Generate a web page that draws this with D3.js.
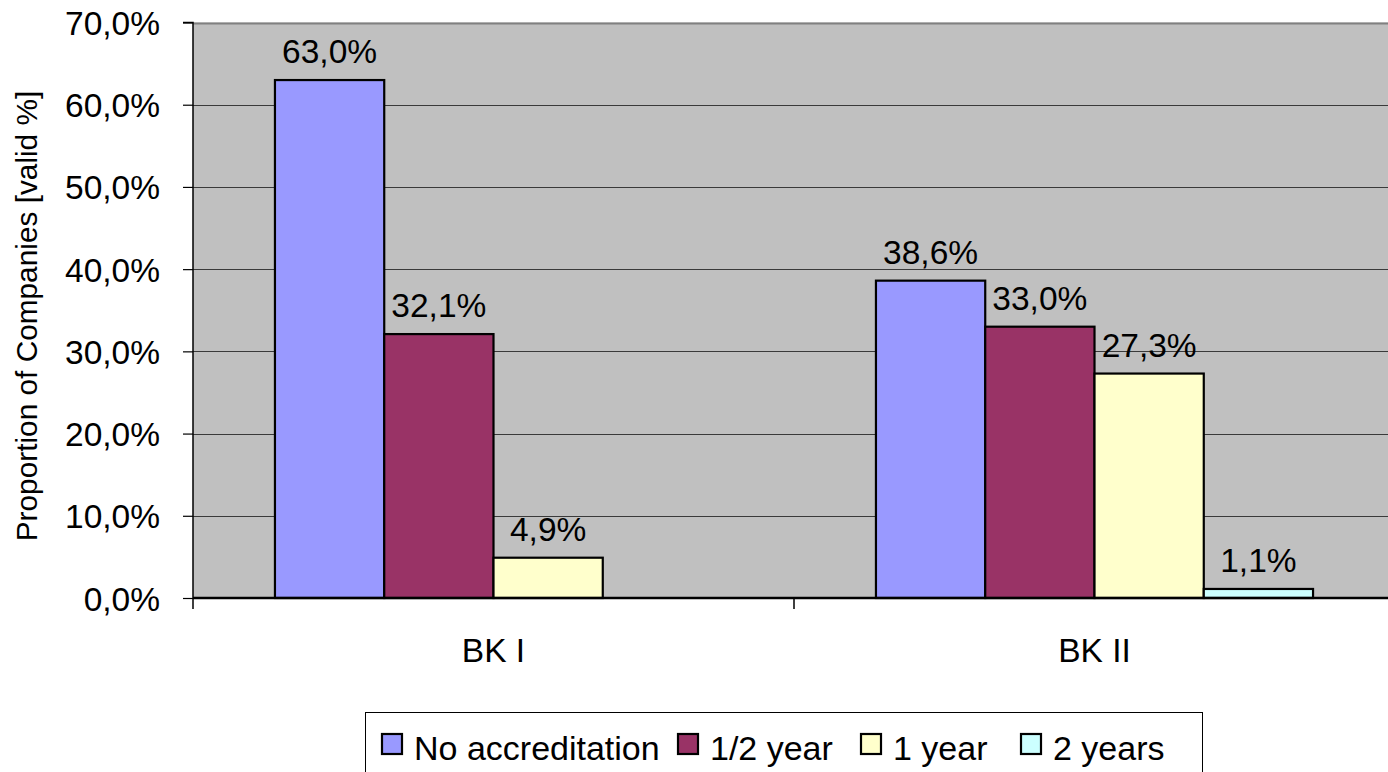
<!DOCTYPE html>
<html>
<head>
<meta charset="utf-8">
<script src="https://cdn.jsdelivr.net/npm/d3@7"></script>
<style>
  html, body { margin: 0; padding: 0; background: #fff; }
  svg { display: block; font-family: "Liberation Sans", Arial, sans-serif; }
</style>
</head>
<body>
<svg id="chart" width="1388" height="772"></svg>
<script>
// Accreditation duration by company group
const categories = ["BK I", "BK II"];
const seriesNames = ["No accreditation", "1/2 year", "1 year", "2 years"];
const seriesColors = ["#9999FF", "#993366", "#FFFFCC", "#CCFFFF"];
// values per series, one entry per category (null = no bar)
const noAccreditation = [63.0, 38.6];
const halfYear = [32.1, 33.0];
const oneYear = [4.9, 27.3];
const twoYears = [null, 1.1];
const yTicks = [0, 10, 20, 30, 40, 50, 60, 70];
const yTitle = "Proportion of Companies [valid %]";

const seriesValues = [noAccreditation, halfYear, oneYear, twoYears];

const svg = d3.select("#chart");
const plot = { left: 193, top: 22.5, bottom: 598, band: 601 };
const labelSize = 33.5;

const fmt = d3.formatLocale({ decimal: ",", thousands: ".", grouping: [3], currency: ["", "%"] }).format(".1f");

const x0 = d3.scaleBand()
  .domain(categories)
  .range([plot.left, plot.left + plot.band * categories.length])
  .paddingInner(0).paddingOuter(0);

// 4 bars per group with a gap of 1.5 bar widths between groups
const barW = x0.bandwidth() / 5.5;
const groupOffset = barW * 0.75;

const y = d3.scaleLinear().domain([0, 70]).range([plot.bottom, plot.top]);

// plot background
svg.append("rect")
  .attr("x", plot.left).attr("y", plot.top)
  .attr("width", 1388 - plot.left).attr("height", plot.bottom - plot.top)
  .attr("fill", "#C0C0C0");

// gridlines
svg.append("g")
  .selectAll("line")
  .data(yTicks.filter(d => d > 0))
  .join("line")
  .attr("x1", plot.left).attr("x2", 1388)
  .attr("y1", d => Math.round(y(d)) + 0.5).attr("y2", d => Math.round(y(d)) + 0.5)
  .attr("stroke", d => d === 70 ? "#808080" : "#3a3a3a")
  .attr("stroke-width", d => d === 70 ? 2 : 1.2);

// bars
const groups = svg.append("g")
  .selectAll("g")
  .data(categories.map((c, ci) => ({ c, vals: seriesValues.map((s, si) => ({ si, v: s[ci] })) })))
  .join("g")
  .attr("transform", d => `translate(${x0(d.c)},0)`);

groups.selectAll("rect")
  .data(d => d.vals.filter(e => e.v !== null))
  .join("rect")
  .attr("x", e => groupOffset + e.si * barW)
  .attr("y", e => y(e.v))
  .attr("width", barW)
  .attr("height", e => plot.bottom - y(e.v))
  .attr("fill", e => seriesColors[e.si])
  .attr("stroke", "#000")
  .attr("stroke-width", 2.2);

groups.selectAll("text")
  .data(d => d.vals.filter(e => e.v !== null))
  .join("text")
  .attr("x", e => groupOffset + e.si * barW + barW / 2)
  .attr("y", e => y(e.v) - 17)
  .attr("text-anchor", "middle")
  .attr("font-size", labelSize)
  .attr("fill", "#000")
  .text(e => fmt(e.v) + "%");

// y axis
const yAxis = d3.axisLeft(y).tickValues(yTicks).tickSize(10).tickFormat(d => fmt(d) + "%");
const yg = svg.append("g").attr("transform", `translate(${plot.left},0)`).call(yAxis);
yg.select(".domain").attr("stroke", "#000").attr("stroke-width", 1.5)
  .attr("d", `M-10,${plot.top}H0V${plot.bottom + 11}`);
yg.selectAll(".tick line").attr("stroke", "#000").attr("stroke-width", 1.2);
yg.selectAll(".tick text")
  .attr("x", -33).attr("dy", null).attr("y", 12)
  .attr("font-size", labelSize).attr("fill", "#000")
  .attr("font-family", "'Liberation Sans', Arial, sans-serif");

// x axis
const xAxis = d3.axisBottom(x0).tickSize(0).tickFormat(d => d);
const xg = svg.append("g").attr("transform", `translate(0,${plot.bottom})`).call(xAxis);
xg.select(".domain").attr("stroke", "#000").attr("stroke-width", 2.5)
  .attr("d", `M${plot.left},0H1388`);
xg.selectAll(".tick text")
  .attr("y", 64).attr("dy", null)
  .attr("font-size", labelSize).attr("fill", "#000")
  .attr("font-family", "'Liberation Sans', Arial, sans-serif");
// category separator ticks
xg.append("g").selectAll("line")
  .data(categories.slice(1))
  .join("line")
  .attr("x1", d => x0(d)).attr("x2", d => x0(d))
  .attr("y1", 0).attr("y2", 11)
  .attr("stroke", "#000").attr("stroke-width", 1.5);

// y title
svg.append("text")
  .attr("transform", `translate(37,316) rotate(-90)`)
  .attr("text-anchor", "middle")
  .attr("font-size", 29.8)
  .attr("fill", "#000")
  .text(yTitle);

// legend
const legend = svg.append("g");
legend.append("rect")
  .attr("x", 365.5).attr("y", 712.5).attr("width", 837).attr("height", 80)
  .attr("fill", "#fff").attr("stroke", "#000").attr("stroke-width", 1);
const legendX = [381, 677, 860, 1020];
const items = legend.selectAll("g.item")
  .data(seriesNames)
  .join("g")
  .attr("class", "item")
  .attr("transform", (d, i) => `translate(${legendX[i]},0)`);
items.append("rect")
  .attr("x", 1).attr("y", 734).attr("width", 20).attr("height", 20)
  .attr("fill", (d, i) => seriesColors[i])
  .attr("stroke", "#000").attr("stroke-width", 2.2);
items.append("text")
  .attr("x", 33).attr("y", 760)
  .attr("font-size", 34)
  .attr("fill", "#000")
  .text(d => d);
</script>
</body>
</html>
